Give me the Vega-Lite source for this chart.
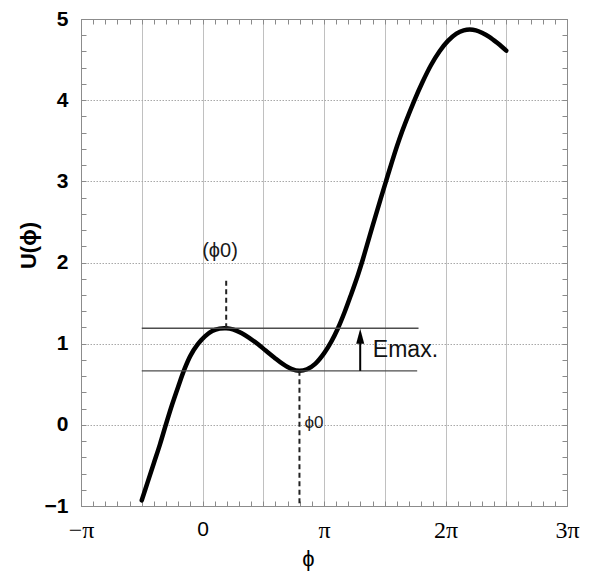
{
  "$schema": "https://vega.github.io/schema/vega-lite/v6.json",
  "width": 486,
  "height": 487,
  "autosize": {"type": "none"},
  "padding": {"left": 81, "top": 19, "right": 23, "bottom": 67},
  "background": "white",
  "config": {"view": {"stroke": "#8c8c8c", "strokeWidth": 1}},
  "datasets": {
    "curve": [
      {"phi": -0.5, "U": -0.93}, {"phi": -0.45, "U": -0.7}, {"phi": -0.4, "U": -0.47},
      {"phi": -0.35, "U": -0.24}, {"phi": -0.3, "U": 0.01}, {"phi": -0.25, "U": 0.25},
      {"phi": -0.2, "U": 0.47}, {"phi": -0.15, "U": 0.68}, {"phi": -0.1, "U": 0.85},
      {"phi": -0.04, "U": 0.99}, {"phi": 0.02, "U": 1.09}, {"phi": 0.08, "U": 1.155},
      {"phi": 0.14, "U": 1.185}, {"phi": 0.195, "U": 1.19}, {"phi": 0.25, "U": 1.175},
      {"phi": 0.32, "U": 1.13}, {"phi": 0.39, "U": 1.065}, {"phi": 0.455, "U": 0.995},
      {"phi": 0.52, "U": 0.915}, {"phi": 0.59, "U": 0.83}, {"phi": 0.66, "U": 0.75},
      {"phi": 0.73, "U": 0.69}, {"phi": 0.798, "U": 0.665}, {"phi": 0.86, "U": 0.685},
      {"phi": 0.93, "U": 0.755}, {"phi": 1.0, "U": 0.88}, {"phi": 1.06, "U": 1.025},
      {"phi": 1.114, "U": 1.187}, {"phi": 1.17, "U": 1.39}, {"phi": 1.224, "U": 1.61},
      {"phi": 1.28, "U": 1.85}, {"phi": 1.32, "U": 2.04}, {"phi": 1.4, "U": 2.45},
      {"phi": 1.51, "U": 3.0}, {"phi": 1.62, "U": 3.52}, {"phi": 1.745, "U": 4.0},
      {"phi": 1.81, "U": 4.22}, {"phi": 1.88, "U": 4.43}, {"phi": 1.95, "U": 4.6},
      {"phi": 2.02, "U": 4.73}, {"phi": 2.09, "U": 4.82}, {"phi": 2.15, "U": 4.86},
      {"phi": 2.2, "U": 4.87}, {"phi": 2.25, "U": 4.86}, {"phi": 2.3, "U": 4.83},
      {"phi": 2.36, "U": 4.78}, {"phi": 2.43, "U": 4.7}, {"phi": 2.5, "U": 4.61}
    ],
    "levels": [
      {"phi": -0.5, "phi2": 1.778, "U": 1.19},
      {"phi": -0.5, "phi2": 1.767, "U": 0.665}
    ],
    "dashed": [
      {"phi": 0.195, "U": 1.19, "U2": 1.78},
      {"phi": 0.798, "U": 0.665, "U2": -1}
    ],
    "shaft": [{"phi": 1.298, "U": 0.665, "U2": 1.08}],
    "head": [{"phi": 1.298, "U": 1.185}],
    "lab1": [{"phi": 0.144, "U": 2.14, "text": "(ϕ0)"}],
    "lab2": [{"phi": 0.84, "U": 0.02, "text": "ϕ0"}],
    "lab3": [{"phi": 1.402, "U": 0.92, "text": "Emax."}]
  },
  "resolve": {"axis": {"x": "independent", "y": "independent"}},
  "layer": [
    {
      "data": {"name": "curve"},
      "mark": {"type": "line", "color": "black", "strokeWidth": 4.5, "interpolate": "catmull-rom", "strokeCap": "round"},
      "encoding": {
        "x": {
          "field": "phi", "type": "quantitative",
          "scale": {"domain": [-1, 3], "nice": false, "zero": false},
          "axis": {
            "orient": "bottom",
            "values": [-1, -0.5, 0, 0.5, 1, 1.5, 2, 2.5, 3],
            "grid": true, "gridColor": "#c0c0c0", "gridWidth": 1,
            "ticks": false, "domain": false,
            "labelExpr": "datum.value == 0 ? '0' : datum.value == 1 ? 'π' : datum.value == -1 ? '−π' : datum.value == 2 ? '2π' : datum.value == 3 ? '3π' : ''",
            "labelFont": {"condition": {"test": "datum.value == 0", "value": "Liberation Sans"}, "value": "Liberation Serif"},
            "labelFontSize": {"condition": {"test": "datum.value == 0", "value": 21}, "value": 24},
            "labelColor": "black", "labelPadding": 12, "labelOverlap": false, "labelFlush": false, "labelBound": false,
            "title": "ϕ", "titleFont": "Liberation Sans", "titleFontSize": 22, "titleFontWeight": "normal", "titleColor": "black",
            "titleX": 227, "titleY": 52, "titleBaseline": "middle", "titleAlign": "center"
          }
        },
        "y": {
          "field": "U", "type": "quantitative",
          "scale": {"domain": [-1, 5], "nice": false, "zero": false},
          "axis": {
            "orient": "left",
            "values": [-1, 0, 1, 2, 3, 4, 5],
            "grid": true, "gridColor": "#a8a8a8", "gridDash": [1.5, 1.5], "gridWidth": 1,
            "ticks": false, "domain": false,
            "labelFont": "Liberation Sans", "labelFontWeight": "bold", "labelFontSize": 21, "labelColor": "black",
            "labelPadding": 13, "labelOverlap": false, "labelFlush": false, "labelBound": false,
            "title": "U(ϕ)", "titleFont": "Liberation Sans", "titleFontWeight": "bold", "titleFontSize": 22, "titleColor": "black",
            "titleX": -53, "titleY": 226, "titleAngle": -90, "titleAlign": "center", "titleBaseline": "middle"
          }
        }
      }
    },
    {
      "data": {"name": "levels"},
      "mark": {"type": "rule", "color": "#4d4d4d", "strokeWidth": 1.3},
      "encoding": {
        "x": {
          "field": "phi", "type": "quantitative",
          "scale": {"domain": [-1, 3], "nice": false, "zero": false},
          "axis": {
            "orient": "top", "grid": false, "labels": false, "title": null,
            "domain": true, "domainColor": "#8c8c8c", "domainWidth": 1,
            "values": [-1, -0.9, -0.8, -0.7, -0.6, -0.5, -0.4, -0.3, -0.2, -0.1, 0, 0.1, 0.2, 0.3, 0.4, 0.5, 0.6, 0.7, 0.8, 0.9, 1, 1.1, 1.2, 1.3, 1.4, 1.5, 1.6, 1.7, 1.8, 1.9, 2, 2.1, 2.2, 2.3, 2.4, 2.5, 2.6, 2.7, 2.8, 2.9, 3],
            "ticks": true, "tickSize": -5, "tickColor": "#8a8a8a", "tickWidth": 1
          }
        },
        "x2": {"field": "phi2"},
        "y": {
          "field": "U", "type": "quantitative",
          "scale": {"domain": [-1, 5], "nice": false, "zero": false},
          "axis": {
            "orient": "right", "grid": false, "labels": false, "title": null,
            "domain": true, "domainColor": "#8c8c8c", "domainWidth": 1,
            "values": [-1, -0.8, -0.6, -0.4, -0.2, 0, 0.2, 0.4, 0.6, 0.8, 1, 1.2, 1.4, 1.6, 1.8, 2, 2.2, 2.4, 2.6, 2.8, 3, 3.2, 3.4, 3.6, 3.8, 4, 4.2, 4.4, 4.6, 4.8, 5],
            "ticks": true, "tickSize": -5, "tickColor": "#8a8a8a", "tickWidth": 1
          }
        }
      }
    },
    {
      "data": {"name": "dashed"},
      "mark": {"type": "rule", "color": "#222222", "strokeWidth": 2, "strokeDash": [5, 3.5]},
      "encoding": {
        "x": {
          "field": "phi", "type": "quantitative",
          "scale": {"domain": [-1, 3], "nice": false, "zero": false},
          "axis": {
            "orient": "bottom", "grid": false, "labels": false, "title": null,
            "domain": true, "domainColor": "#8c8c8c", "domainWidth": 1,
            "values": [-1, -0.9, -0.8, -0.7, -0.6, -0.5, -0.4, -0.3, -0.2, -0.1, 0, 0.1, 0.2, 0.3, 0.4, 0.5, 0.6, 0.7, 0.8, 0.9, 1, 1.1, 1.2, 1.3, 1.4, 1.5, 1.6, 1.7, 1.8, 1.9, 2, 2.1, 2.2, 2.3, 2.4, 2.5, 2.6, 2.7, 2.8, 2.9, 3],
            "ticks": true, "tickSize": -5, "tickColor": "#8a8a8a", "tickWidth": 1
          }
        },
        "y": {
          "field": "U", "type": "quantitative",
          "scale": {"domain": [-1, 5], "nice": false, "zero": false},
          "axis": {
            "orient": "left", "grid": false, "labels": false, "title": null,
            "domain": true, "domainColor": "#8c8c8c", "domainWidth": 1,
            "values": [-1, -0.8, -0.6, -0.4, -0.2, 0, 0.2, 0.4, 0.6, 0.8, 1, 1.2, 1.4, 1.6, 1.8, 2, 2.2, 2.4, 2.6, 2.8, 3, 3.2, 3.4, 3.6, 3.8, 4, 4.2, 4.4, 4.6, 4.8, 5],
            "ticks": true, "tickSize": -5, "tickColor": "#8a8a8a", "tickWidth": 1
          }
        },
        "y2": {"field": "U2"}
      }
    },
    {
      "data": {"name": "shaft"},
      "mark": {"type": "rule", "color": "black", "strokeWidth": 2},
      "encoding": {
        "x": {"field": "phi", "type": "quantitative", "scale": {"domain": [-1, 3], "nice": false, "zero": false}, "axis": null},
        "y": {"field": "U", "type": "quantitative", "scale": {"domain": [-1, 5], "nice": false, "zero": false}, "axis": null},
        "y2": {"field": "U2"}
      }
    },
    {
      "data": {"name": "head"},
      "mark": {"type": "point", "shape": "M0,0L0.27,1L-0.27,1Z", "size": 900, "filled": true, "color": "black", "opacity": 1},
      "encoding": {
        "x": {"field": "phi", "type": "quantitative", "scale": {"domain": [-1, 3], "nice": false, "zero": false}, "axis": null},
        "y": {"field": "U", "type": "quantitative", "scale": {"domain": [-1, 5], "nice": false, "zero": false}, "axis": null}
      }
    },
    {
      "data": {"name": "lab1"},
      "mark": {"type": "text", "font": "Liberation Sans", "fontSize": 20, "color": "#1a1a1a", "align": "center", "baseline": "middle"},
      "encoding": {
        "x": {"field": "phi", "type": "quantitative", "scale": {"domain": [-1, 3], "nice": false, "zero": false}, "axis": null},
        "y": {"field": "U", "type": "quantitative", "scale": {"domain": [-1, 5], "nice": false, "zero": false}, "axis": null},
        "text": {"field": "text"}
      }
    },
    {
      "data": {"name": "lab2"},
      "mark": {"type": "text", "font": "Liberation Sans", "fontSize": 17, "color": "#1a1a1a", "align": "left", "baseline": "middle"},
      "encoding": {
        "x": {"field": "phi", "type": "quantitative", "scale": {"domain": [-1, 3], "nice": false, "zero": false}, "axis": null},
        "y": {"field": "U", "type": "quantitative", "scale": {"domain": [-1, 5], "nice": false, "zero": false}, "axis": null},
        "text": {"field": "text"}
      }
    },
    {
      "data": {"name": "lab3"},
      "mark": {"type": "text", "font": "Liberation Sans", "fontSize": 23, "color": "#111111", "align": "left", "baseline": "middle"},
      "encoding": {
        "x": {"field": "phi", "type": "quantitative", "scale": {"domain": [-1, 3], "nice": false, "zero": false}, "axis": null},
        "y": {"field": "U", "type": "quantitative", "scale": {"domain": [-1, 5], "nice": false, "zero": false}, "axis": null},
        "text": {"field": "text"}
      }
    }
  ]
}
